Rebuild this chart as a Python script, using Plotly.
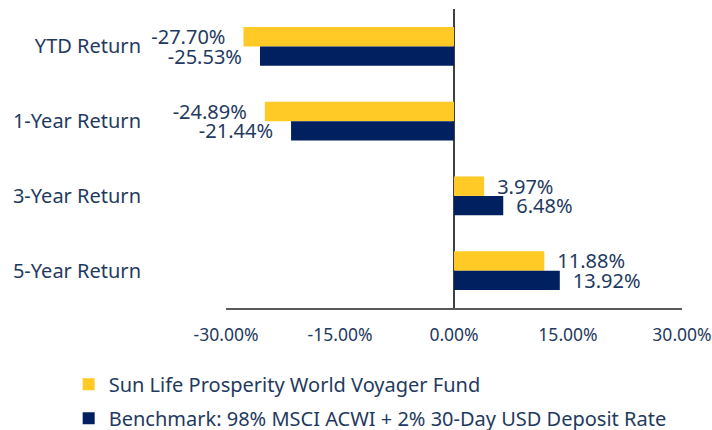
import plotly.graph_objects as go

categories = ["YTD Return", "1-Year Return", "3-Year Return", "5-Year Return"]
fund_name = "Sun Life Prosperity World Voyager Fund"
bench_name = "Benchmark: 98% MSCI ACWI + 2% 30-Day USD Deposit Rate"
fund_values = [-27.70, -24.89, 3.97, 11.88]
bench_values = [-25.53, -21.44, 6.48, 13.92]
tick_values = [-30, -15, 0, 15, 30]
tick_labels = [f"{v:.2f}%" for v in tick_values]

YELLOW = "#FFC926"
NAVY = "#00205F"
TEXT = "#1F3A60"
FONT = "Noto Sans"


def templates(vals):
    return ["%{x:.2f}%\u2800" if v < 0 else "\u2002%{x:.2f}%" for v in vals]


fig = go.Figure()
for name, vals, col, grp in [
    (fund_name, fund_values, YELLOW, "a"),
    (bench_name, bench_values, NAVY, "b"),
]:
    fig.add_trace(go.Bar(
        y=categories, x=vals, name=name, orientation="h",
        marker=dict(color=col, line=dict(width=0)),
        texttemplate=templates(vals), textposition="outside",
        textfont=dict(family=FONT, size=20, color=TEXT),
        constraintext="none", cliponaxis=False, legendgroup=grp,
        hoverinfo="skip",
    ))

fig.update_layout(
    width=712, height=430,
    margin=dict(l=226, r=30, t=9, b=122, autoexpand=False),
    paper_bgcolor="white", plot_bgcolor="white",
    barmode="group", bargap=0.48, bargroupgap=0,
    font=dict(family=FONT, size=20, color=TEXT),
    showlegend=True,
    legend=dict(
        orientation="v", x=-0.345, xanchor="left", y=-0.19, yanchor="top",
        font=dict(family=FONT, size=20, color=TEXT),
        traceorder="grouped", tracegroupgap=5,
        bgcolor="rgba(0,0,0,0)",
    ),
    xaxis=dict(
        range=[-30, 30], tickvals=tick_values, ticktext=tick_labels,
        showgrid=False, zeroline=True, zerolinecolor="#404040", zerolinewidth=1.5,
        showline=True, linecolor="#595959", linewidth=1.5,
        ticks="", ticklabelstandoff=10, ticklabeloverflow="allow",
        tickfont=dict(family=FONT, size=17.5, color=TEXT),
        fixedrange=True,
    ),
    yaxis=dict(
        autorange="reversed", showgrid=False, zeroline=False, showline=False,
        ticks="", ticklabelstandoff=84,
        tickfont=dict(family=FONT, size=20, color=TEXT),
        fixedrange=True,
    ),
)

fig.write_html(
    "out.html",
    config={"displayModeBar": False},
    post_script="document.body.style.margin='0';document.body.style.overflow='hidden';",
)
